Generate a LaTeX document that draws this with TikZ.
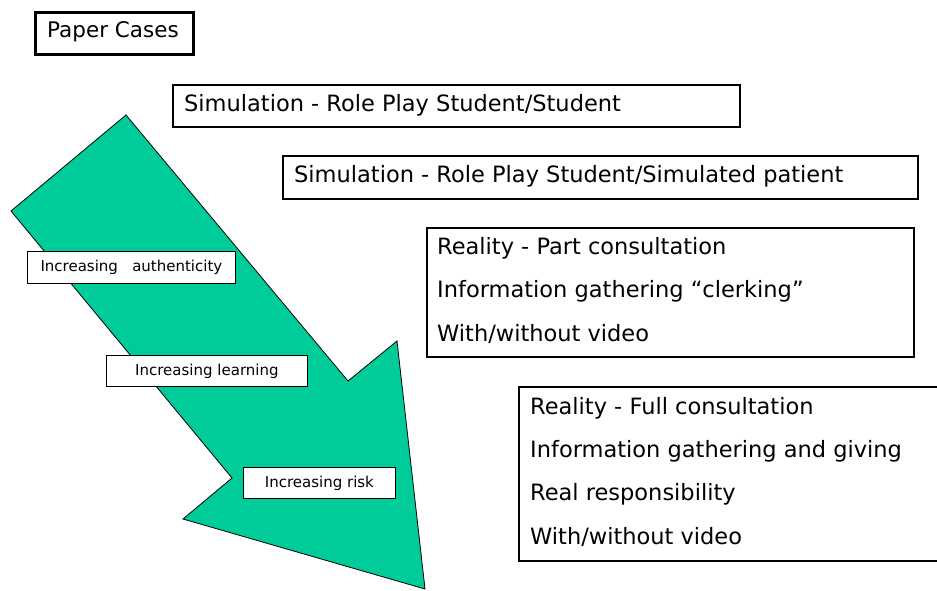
\documentclass[tikz,border=0pt]{standalone}
\usepackage{fontspec}
\setmainfont{DejaVu Sans}
\definecolor{arrowgreen}{HTML}{00CC99}
\begin{document}
\begin{tikzpicture}[x=1pt,y=-1pt,
  bigbox/.style={draw, line width=2.4pt, anchor=north west, inner sep=0pt},
  txt/.style={anchor=west, inner sep=0pt, font=\fontsize{22.5}{26}\selectfont},
  lbl/.style={draw, fill=white, line width=0.8pt, anchor=north west, inner sep=0pt, font=\fontsize{15}{18}\selectfont}]
\useasboundingbox (0,0) rectangle (937,590);
% arrow
\path[draw=black, line width=0.8pt, fill=arrowgreen] (126,115) -- (11,211) -- (232,478) -- (183,519) -- (425,589) -- (397,341) -- (348,381) -- cycle;
% boxes
\node[bigbox, line width=3pt, minimum width=158pt, minimum height=42pt] (paper) at (34,11) {};
\node[txt, font=\fontsize{21.5}{26}\selectfont] (papert) at (47,32) {Paper Cases};
\node[bigbox, minimum width=567pt, minimum height=42pt] (sim1) at (172,84) {};
\node[txt] (sim1t) at (184,105) {Simulation - Role Play Student/Student};
\node[bigbox, minimum width=635pt, minimum height=43pt] (sim2) at (282,155) {};
\node[txt] (sim2t) at (294,176) {Simulation - Role Play Student/Simulated patient};
\node[bigbox, minimum width=487pt, minimum height=129pt] (real1) at (426,227) {};
\node[txt] (r1a) at (437,248) {Reality - Part consultation};
\node[txt] (r1b) at (437,291) {Information gathering “clerking”};
\node[txt] (r1c) at (437,334) {With/without video};
\node[bigbox, minimum width=430pt, minimum height=174pt] (real2) at (518,386) {};
\node[txt] (r2a) at (530,408) {Reality - Full consultation};
\node[txt] (r2b) at (530,451) {Information gathering and giving};
\node[txt] (r2c) at (530,494) {Real responsibility};
\node[txt] (r2d) at (530,537) {With/without video};
% labels
\node[lbl, minimum width=208pt, minimum height=32pt] (l1) at (27,251) {Increasing\ \ \ authenticity};
\node[lbl, minimum width=201pt, minimum height=31pt] (l2) at (106,355) {Increasing learning};
\node[lbl, minimum width=152pt, minimum height=31pt] (l3) at (243,467) {Increasing risk};
\end{tikzpicture}
\end{document}
